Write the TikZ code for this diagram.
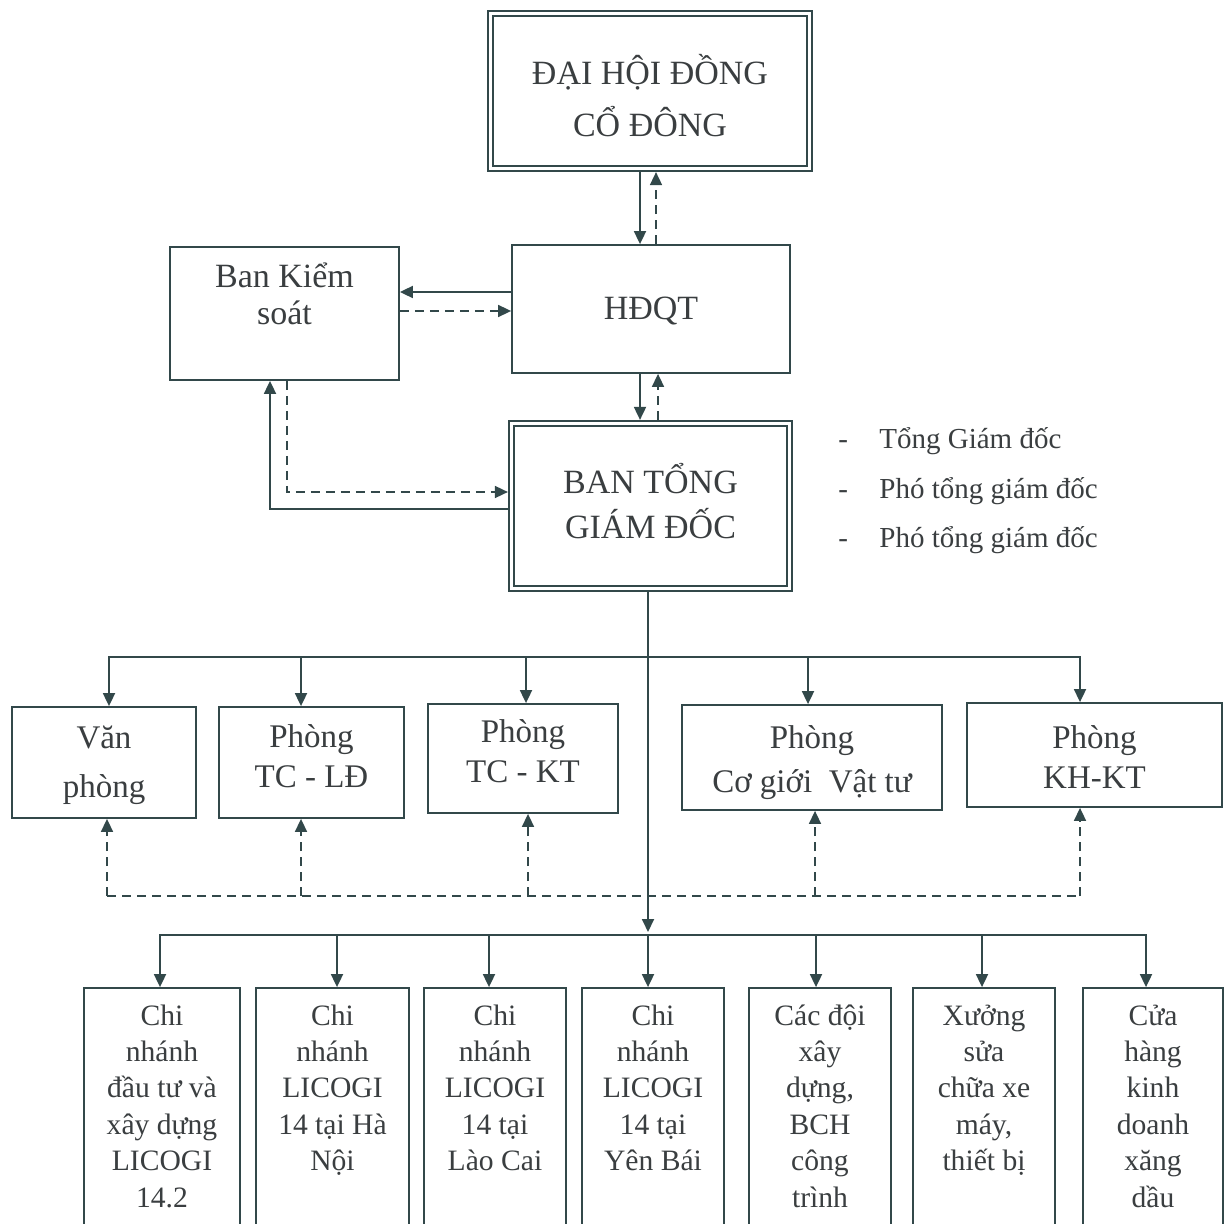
\documentclass[tikz,border=0pt]{standalone}
\usepackage{fontspec}
\setmainfont{Liberation Serif}
\usetikzlibrary{arrows.meta}
\definecolor{lncol}{RGB}{50,72,74}
\definecolor{txcol}{RGB}{58,62,64}
\newcommand\bxt[4]{\parbox[c][#2][t]{#1}{\centering\rule{0pt}{#3}#4}}
\begin{document}
\begin{tikzpicture}[x=0.5pt,y=-0.5pt,
  box/.style={draw=lncol, line width=0.9pt, inner sep=0pt, text=txcol},
  dbox/.style={draw=lncol, line width=0.9pt, double=white, double distance=1.8pt, inner sep=0pt, outer sep=1.8pt, text=txcol},
  arr/.style={draw=lncol, line width=0.9pt, -{Triangle[length=6.5pt,width=6pt]}},
  darr/.style={draw=lncol, line width=0.8pt, dash pattern=on 4.5pt off 3pt, -{Triangle[length=6.5pt,width=6pt]}},
  bus/.style={draw=lncol, line width=0.9pt, line cap=rect},
  dbus/.style={draw=lncol, line width=0.8pt, dash pattern=on 4.5pt off 3pt},
  fmain/.style={font=\fontsize{17}{18.5}\selectfont},
  fmid/.style={font=\fontsize{16.5}{20}\selectfont},
  fbot/.style={font=\fontsize{14.8}{18.2}\selectfont},
  item/.style={anchor=base west, inner sep=0pt, text=txcol, font=\fontsize{14.5}{17}\selectfont}]
\useasboundingbox (0,0) rectangle (1224,1224);
\clip (0,0) rectangle (1224,1224);
\fill[white] (0,0) rectangle (1224,1224);

% top levels
\node[dbox, font=\fontsize{17}{26}\selectfont] (dh) at (650,91) {\bxt{159.5pt}{77.5pt}{35.75pt}{ĐẠI HỘI ĐỒNG\\CỔ ĐÔNG}};
\node[box, fmain] (hd) at (651,309) {\bxt{139pt}{64pt}{37.5pt}{HĐQT}};
\node[box, fmain] (bk) at (284.5,313.5) {\bxt{114.5pt}{66.5pt}{20.5pt}{Ban Kiểm\\soát}};
\node[dbox, font=\fontsize{17}{22.5}\selectfont] (tg) at (650.5,506) {\bxt{139pt}{82.5pt}{34.75pt}{BAN TỔNG\\GIÁM ĐỐC}};

% side list
\node[item] (l1) at (838,448) {\makebox[20.5pt][l]{-}Tổng Giám đốc};
\node[item] (l2) at (838,498) {\makebox[20.5pt][l]{-}Phó tổng giám đốc};
\node[item] (l3) at (838,547) {\makebox[20.5pt][l]{-}Phó tổng giám đốc};

% middle row
\node[box, font=\fontsize{16.5}{24.5}\selectfont] (vp) at (104,762.5) {\bxt{92pt}{55.5pt}{20.5pt}{Văn\\phòng}};
\node[box, fmid] (ld) at (311.5,762.5) {\bxt{92.5pt}{55.5pt}{20pt}{Phòng\\TC - LĐ}};
\node[box, fmid] (kt) at (523,758.5) {\bxt{95pt}{54.5pt}{19pt}{Phòng\\TC - KT}};
\node[box, font=\fontsize{16.5}{22}\selectfont] (cg) at (812,757.5) {\bxt{130pt}{52.5pt}{21.5pt}{Phòng\\Cơ giới\ \ Vật tư}};
\node[box, fmid] (kh) at (1094.5,755) {\bxt{127.5pt}{52pt}{22.5pt}{Phòng\\KH-KT}};

% bottom row
\node[box, fbot] (b1) at (162,1116) {\bxt{78pt}{128pt}{18.5pt}{Chi\\nhánh\\đầu tư và\\xây dựng\\LICOGI\\14.2}};
\node[box, fbot] (b2) at (332.5,1116) {\bxt{76.5pt}{128pt}{18.5pt}{Chi\\nhánh\\LICOGI\\14 tại Hà\\Nội}};
\node[box, fbot] (b3) at (495,1116) {\bxt{71pt}{128pt}{18.5pt}{Chi\\nhánh\\LICOGI\\14 tại\\Lào Cai}};
\node[box, fbot] (b4) at (653,1116) {\bxt{71pt}{128pt}{18.5pt}{Chi\\nhánh\\LICOGI\\14 tại\\Yên Bái}};
\node[box, fbot] (b5) at (820,1116) {\bxt{71pt}{128pt}{18.5pt}{Các đội\\xây\\dựng,\\BCH\\công\\trình}};
\node[box, fbot] (b6) at (984,1116) {\bxt{71pt}{128pt}{18.5pt}{Xưởng\\sửa\\chữa xe\\máy,\\thiết bị}};
\node[box, fbot] (b7) at (1153,1116) {\bxt{70pt}{128pt}{18.5pt}{Cửa\\hàng\\kinh\\doanh\\xăng\\dầu}};

% connectors top
\coordinate (c1) at (640,0);
\coordinate (c2) at (656,0);
\coordinate (c4) at (658,0);
\draw[arr] (dh.south -| c1) -- (hd.north -| c1);
\draw[darr] (hd.north -| c2) -- (dh.south -| c2);
\coordinate (r1) at (0,292);
\coordinate (r2) at (0,311);
\draw[arr] (hd.west |- r1) -- (bk.east |- r1);
\draw[darr] (bk.east |- r2) -- (hd.west |- r2);
\draw[arr] (hd.south -| c1) -- (tg.north -| c1);
\draw[darr] (tg.north -| c4) -- (hd.south -| c4);
\coordinate (s1) at (270,509);
\draw[arr] (tg.west |- s1) -- (s1) -- (s1 |- bk.south);
\coordinate (s2) at (287,492);
\draw[darr] (s2 |- bk.south) -- (s2) -- (tg.west |- s2);

% main vertical
\coordinate (v) at (648,932);
\draw[arr] (tg.south -| v) -- (v);

% middle bus
\coordinate (m1) at (109,657);
\coordinate (m2) at (301,657);
\coordinate (m3) at (526,657);
\coordinate (m4) at (808,657);
\coordinate (m5) at (1080,657);
\draw[bus] (m1) -- (m5);
\draw[arr] (m1) -- (m1 |- vp.north);
\draw[arr] (m2) -- (m2 |- ld.north);
\draw[arr] (m3) -- (m3 |- kt.north);
\draw[arr] (m4) -- (m4 |- cg.north);
\draw[arr] (m5) -- (m5 |- kh.north);

% dashed bus
\coordinate (n1) at (107,896);
\coordinate (n2) at (301,896);
\coordinate (n3) at (528,896);
\coordinate (n4) at (815,896);
\coordinate (n5) at (1080,896);
\draw[dbus] (n1) -- (n5);
\draw[darr] (n1) -- (n1 |- vp.south);
\draw[darr] (n2) -- (n2 |- ld.south);
\draw[darr] (n3) -- (n3 |- kt.south);
\draw[darr] (n4) -- (n4 |- cg.south);
\draw[darr] (n5) -- (n5 |- kh.south);

% bottom bus
\coordinate (k1) at (160,935);
\coordinate (k2) at (337,935);
\coordinate (k3) at (489,935);
\coordinate (k4) at (648,935);
\coordinate (k5) at (816,935);
\coordinate (k6) at (982,935);
\coordinate (k7) at (1146,935);
\draw[bus] (k1) -- (k7);
\draw[arr] (k1) -- (k1 |- b1.north);
\draw[arr] (k2) -- (k2 |- b2.north);
\draw[arr] (k3) -- (k3 |- b3.north);
\draw[arr] (k4) -- (k4 |- b4.north);
\draw[arr] (k5) -- (k5 |- b5.north);
\draw[arr] (k6) -- (k6 |- b6.north);
\draw[arr] (k7) -- (k7 |- b7.north);
\end{tikzpicture}
\end{document}
